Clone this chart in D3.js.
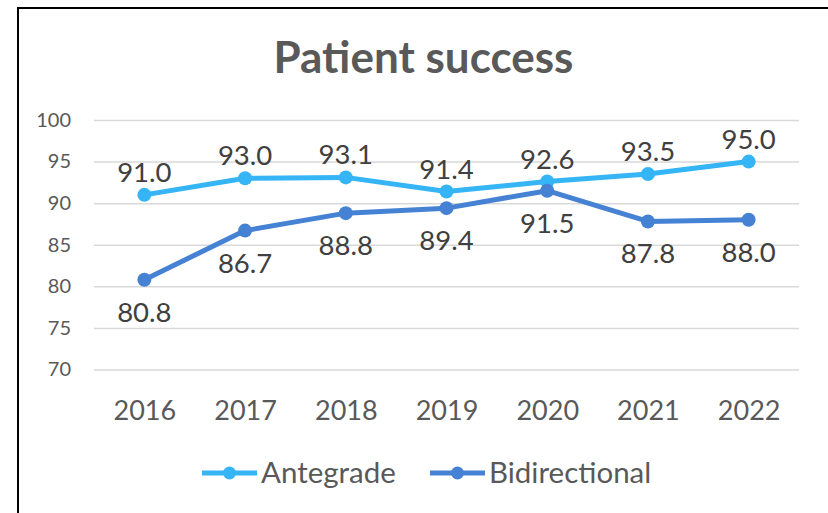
<!DOCTYPE html>
<html lang="en">
  <head>
    <meta charset="utf-8">
    <script src="https://d3js.org/d3.v7.min.js"></script>
    <style>
      body { margin: 0; background: #fff; }
      svg text { font-family: Lato, "Open Sans", sans-serif; }
    </style>
  </head>
  <body>
    <script>
      // data
      var years = ["2016", "2017", "2018", "2019", "2020", "2021", "2022"];
      var antegrade = [91.0, 93.0, 93.1, 91.4, 92.6, 93.5, 95.0];
      var bidirectional = [80.8, 86.7, 88.8, 89.4, 91.5, 87.8, 88.0];
      var yTicks = [70, 75, 80, 85, 90, 95, 100];
      var seriesNames = ["Antegrade", "Bidirectional"];

      var width = 828,
        height = 513;
      var plot = { left: 94, right: 799, top: 120, bottom: 369.5 };

      var svg = d3.select("body")
        .append("svg")
        .attr("width", width)
        .attr("height", height);

      // chart frame (only left and top edges show in the crop)
      svg.append("rect")
        .attr("x", 18).attr("y", 8)
        .attr("width", 830).attr("height", 530)
        .attr("fill", "#fff")
        .attr("stroke", "#000")
        .attr("stroke-width", 2);

      svg.append("text")
        .attr("x", 423.5).attr("y", 73)
        .attr("text-anchor", "middle")
        .attr("font-size", 44)
        .attr("font-weight", "bold")
        .attr("fill", "#595959")
        .text("Patient success");

      var x = d3.scalePoint()
        .domain(years)
        .range([plot.left, plot.right])
        .padding(0.5);

      var y = d3.scaleLinear()
        .domain([70, 100])
        .range([plot.bottom, plot.top]);

      // y axis + gridlines
      var yAxis = svg.append("g")
        .attr("transform", "translate(" + plot.left + ",0)")
        .call(d3.axisLeft(y)
          .tickValues(yTicks)
          .tickSize(-(plot.right - plot.left))
          .tickPadding(23));
      yAxis.select(".domain").remove();
      yAxis.selectAll("line").attr("stroke", "#d9d9d9").attr("stroke-width", 1.5);
      yAxis.selectAll("text")
        .attr("font-size", 20)
        .attr("fill", "#595959");

      // x axis labels
      var xAxis = svg.append("g")
        .attr("transform", "translate(0," + plot.bottom + ")")
        .call(d3.axisBottom(x).tickSize(0).tickPadding(31));
      xAxis.select(".domain").remove();
      xAxis.selectAll("text")
        .attr("font-size", 27)
        .attr("fill", "#595959");

      var series = [
        { name: seriesNames[0], values: antegrade, color: "#35b5f6", above: true },
        { name: seriesNames[1], values: bidirectional, color: "#4682d4", above: false }
      ];

      var line = d3.line()
        .x(function (d, i) { return x(years[i]); })
        .y(function (d) { return y(d); });

      series.forEach(function (s) {
        var g = svg.append("g");
        g.append("path")
          .datum(s.values)
          .attr("d", line)
          .attr("fill", "none")
          .attr("stroke", s.color)
          .attr("stroke-width", 5)
          .attr("stroke-linejoin", "round");
        g.selectAll("circle")
          .data(s.values)
          .join("circle")
          .attr("cx", function (d, i) { return x(years[i]); })
          .attr("cy", function (d) { return y(d); })
          .attr("r", 7)
          .attr("fill", s.color);
        g.selectAll("text")
          .data(s.values)
          .join("text")
          .attr("x", function (d, i) { return x(years[i]); })
          .attr("y", function (d) { return y(d) + (s.above ? -13 : 42); })
          .attr("text-anchor", "middle")
          .attr("font-size", 27.5)
          .attr("fill", "#404040")
          .text(function (d) { return d.toFixed(1); });
      });

      // legend
      var legendX = [202, 430];
      series.forEach(function (s, i) {
        var lg = svg.append("g")
          .attr("transform", "translate(" + legendX[i] + ",473)");
        lg.append("line")
          .attr("x1", 0).attr("x2", 55)
          .attr("stroke", s.color)
          .attr("stroke-width", 5);
        lg.append("circle")
          .attr("cx", 27.5).attr("r", 6.5)
          .attr("fill", s.color);
        lg.append("text")
          .attr("x", 59).attr("y", 10)
          .attr("font-size", 29.5)
          .attr("fill", "#595959")
          .text(s.name);
      });
    </script>
  </body>
</html>
